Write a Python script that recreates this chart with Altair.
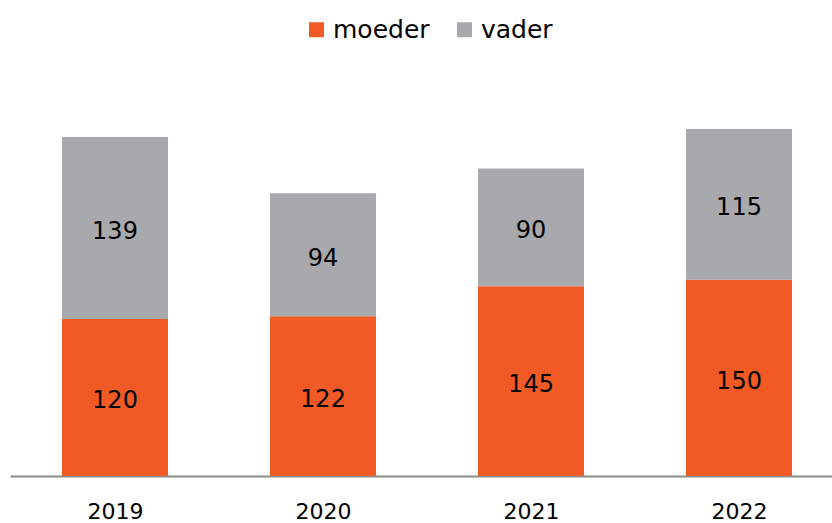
import altair as alt
import pandas as pd

years = [2019, 2020, 2021, 2022]
moeder = [120, 122, 145, 150]
vader = [139, 94, 90, 115]
series = ["moeder", "vader"]
colors = ["#F15A24", "#A7A9AC"]

rows = []
for i, y in enumerate(years):
    rows.append({"year": y, "ouder": "moeder", "order": 0, "value": moeder[i]})
    rows.append({"year": y, "ouder": "vader", "order": 1, "value": vader[i]})
df = pd.DataFrame(rows)

FONT = "DejaVu Sans"

base = alt.Chart(df).transform_stack(
    stack="value", groupby=["year"], as_=["y0", "y1"],
    sort=[alt.SortField("order", order="ascending")]
).transform_calculate(mid="(datum.y0 + datum.y1) / 2")

xscale = alt.Scale(domain=[2018.4952, 2022.447], nice=False, zero=False, padding=0)
xenc = alt.X("year:Q", scale=xscale,
             axis=alt.Axis(values=years, format="d", title=None, ticks=False, grid=False,
                           domainColor="#8C8C8C", domainWidth=2, labelFontSize=22,
                           labelColor="#000000", labelFont=FONT, labelPadding=25))
yscale = alt.Scale(domain=[0, 317.8], nice=False)

bars = base.mark_bar(size=106).encode(
    x=xenc,
    y=alt.Y("y0:Q", scale=yscale, axis=None),
    y2="y1:Q",
    color=alt.Color("ouder:N", scale=alt.Scale(domain=series, range=colors),
                    legend=alt.Legend(title=None, orient="none", direction="horizontal",
                                      legendX=294, legendY=-43, symbolType="square",
                                      symbolSize=225, symbolStrokeWidth=0,
                                      labelFontSize=25, labelFont=FONT, labelColor="#000000",
                                      labelOffset=4, columnPadding=22, padding=0)),
)

labels = base.mark_text(fontSize=24, font=FONT, color="#000000", baseline="middle", dy=4).encode(
    x=alt.X("year:Q", scale=xscale),
    y=alt.Y("mid:Q", scale=yscale),
    text=alt.Text("value:Q"),
)

chart = alt.layer(bars, labels).properties(
    width=822, height=416,
    padding={"left": 10, "top": 60, "right": 0, "bottom": 47},
    autosize=alt.AutoSizeParams(type="none"),
).configure_view(stroke=None)

chart.save("out.html", embed_options={"renderer": "svg", "actions": False})
